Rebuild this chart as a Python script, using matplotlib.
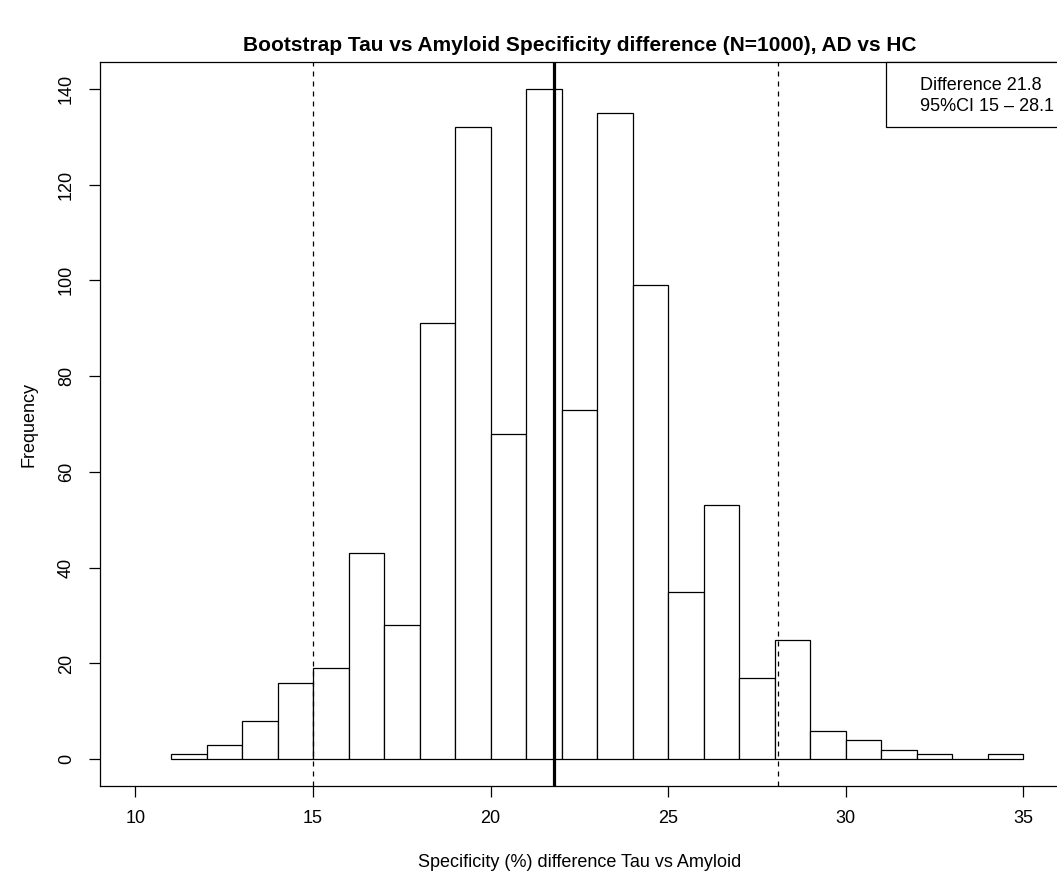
import matplotlib
matplotlib.use("Agg")
import matplotlib.pyplot as plt
from matplotlib.patches import Rectangle
import numpy as np

plt.rcParams['font.family'] = ['Liberation Sans', 'DejaVu Sans']

# bootstrap histogram (bin width 1, from 11 to 35)
bin_edges = np.arange(11, 36, 1)
counts = [1, 3, 8, 16, 19, 43, 28, 91, 132, 68, 140, 73,
          135, 99, 35, 53, 17, 25, 6, 4, 2, 1, 0, 1]

diff_est = 21.8
ci_low = 15
ci_high = 28.1

fig = plt.figure(figsize=(10.57, 8.77), dpi=100)
ax = fig.add_axes([0.0946, 0.1037, 0.9069, 0.8256])

ax.bar(bin_edges[:-1], counts, width=1, align='edge',
       facecolor='white', edgecolor='black', linewidth=0.9)

ax.axvline(diff_est, color='black', linewidth=2.3)
ax.axvline(ci_low, color='black', linewidth=0.9, linestyle=(0, (4, 4)))
ax.axvline(ci_high, color='black', linewidth=0.9, linestyle=(0, (4, 4)))

ax.set_xlim(9, 36)
ax.set_ylim(-5.6, 145.6)
ax.set_xticks([10, 15, 20, 25, 30, 35])
ax.set_yticks([0, 20, 40, 60, 80, 100, 120, 140])
ax.tick_params(axis='both', direction='out', length=8, width=0.9, labelsize=13)
ax.tick_params(axis='x', pad=9)
ax.tick_params(axis='y', pad=10)
for lab in ax.get_yticklabels():
    lab.set_rotation(90)
    lab.set_va('center')
for sp in ax.spines.values():
    sp.set_linewidth(0.9)

ax.set_title('Bootstrap Tau vs Amyloid Specificity difference (N=1000), AD vs HC',
             fontsize=15, fontweight='bold', pad=8)
ax.set_xlabel('Specificity (%) difference Tau vs Amyloid', fontsize=13, labelpad=20)
ax.set_ylabel('Frequency', fontsize=13, labelpad=15)

# legend box (top right, partly cut off)
ax.add_patch(Rectangle((0.82, 0.91), 0.3, 0.09, transform=ax.transAxes,
                       facecolor='white', edgecolor='black', linewidth=0.9,
                       clip_on=False, zorder=5))
ax.text(0.855, 0.967, 'Difference %.1f' % diff_est, transform=ax.transAxes,
        fontsize=13, va='center', ha='left', zorder=6)
ax.text(0.855, 0.939, '95%%CI %g \u2013 %.1f' % (ci_low, ci_high), transform=ax.transAxes,
        fontsize=13, va='center', ha='left', zorder=6)

fig.savefig('out.png', dpi=100)
